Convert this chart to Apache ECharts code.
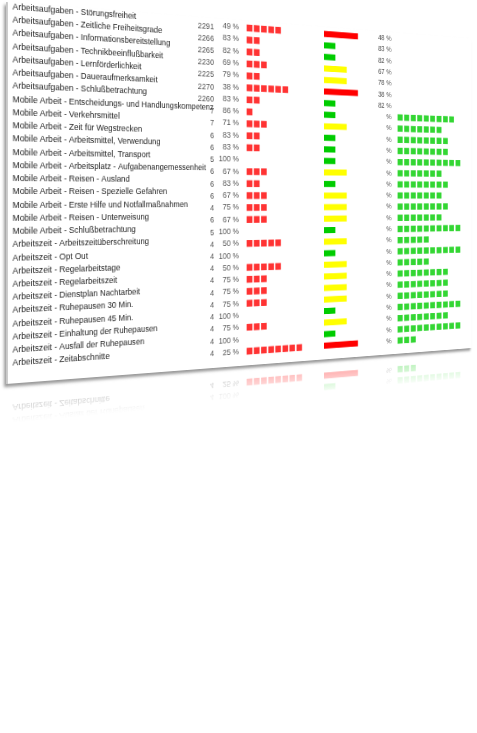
<!DOCTYPE html>
<html>
<head>
<meta charset="utf-8">
<script src="https://cdn.jsdelivr.net/npm/echarts@6/dist/echarts.min.js"></script>
<style>
  html, body { margin: 0; padding: 0; background: #fff; }
  #scene { position: absolute; left: 0; top: 0; width: 477px; height: 733px; overflow: hidden;
    perspective: 890px; perspective-origin: 6px 195px; }
  #table { position: absolute; left: 6px; top: 2px; width: 610px; height: 382px;
    transform: rotateY(20deg); transform-origin: 0 50%; }
  #main { position: absolute; left: 0; top: 0; width: 610px; height: 382px; background: #fff;
    border-left: 2px solid #c8c8c8; box-shadow: -2px 3px 3px #999; }
  #refl { position: absolute; left: 0; top: 385px; width: 612px; height: 36px; overflow: hidden;
    opacity: 0.45; -webkit-mask-image: linear-gradient(#000, transparent); mask-image: linear-gradient(#000, transparent); }
  #mirror { position: absolute; left: 2px; top: 0; width: 610px; height: 382px; transform: scaleY(-1); }
</style>
</head>
<body>
<div id="scene">
  <div id="table">
    <div id="main"></div>
    <div id="refl"><div id="mirror"></div></div>
  </div>
</div>
<script>
var labels = [
  'Arbeitsaufgaben - Störungsfreiheit',
  'Arbeitsaufgaben - Zeitliche Freiheitsgrade',
  'Arbeitsaufgaben - Informationsbereitstellung',
  'Arbeitsaufgaben - Technikbeeinflußbarkeit',
  'Arbeitsaufgaben - Lernförderlichkeit',
  'Arbeitsaufgaben - Daueraufmerksamkeit',
  'Arbeitsaufgaben - Schlußbetrachtung',
  'Mobile Arbeit - Entscheidungs- und Handlungskompetenz',
  'Mobile Arbeit - Verkehrsmittel',
  'Mobile Arbeit - Zeit für Wegstrecken',
  'Mobile Arbeit - Arbeitsmittel, Verwendung',
  'Mobile Arbeit - Arbeitsmittel, Transport',
  'Mobile Arbeit - Arbeitsplatz - Aufgabenangemessenheit',
  'Mobile Arbeit - Reisen - Ausland',
  'Mobile Arbeit - Reisen - Spezielle Gefahren',
  'Mobile Arbeit - Erste Hilfe und Notfallmaßnahmen',
  'Mobile Arbeit - Reisen - Unterweisung',
  'Mobile Arbeit - Schlußbetrachtung',
  'Arbeitszeit - Arbeitszeitüberschreitung',
  'Arbeitszeit - Opt Out',
  'Arbeitszeit - Regelarbeitstage',
  'Arbeitszeit - Regelarbeitszeit',
  'Arbeitszeit - Dienstplan Nachtarbeit',
  'Arbeitszeit - Ruhepausen 30 Min.',
  'Arbeitszeit - Ruhepausen 45 Min.',
  'Arbeitszeit - Einhaltung der Ruhepausen',
  'Arbeitszeit - Ausfall der Ruhepausen',
  'Arbeitszeit - Zeitabschnitte'
];
var counts = [2291, 2266, 2265, 2230, 2225, 2270, 2260, 7, 7, 6, 6, 5, 6, 6, 6, 4, 6, 5, 4, 4, 4, 4, 4, 4, 4, 4, 4, 4];
var pcts = [49, 83, 82, 69, 79, 38, 83, 86, 71, 83, 83, 100, 67, 83, 67, 75, 67, 100, 50, 100, 50, 75, 75, 75, 100, 75, 100, 25];
var redSquares = [5, 2, 2, 3, 2, 6, 2, 1, 3, 2, 2, 0, 3, 2, 3, 3, 3, 0, 5, 0, 5, 3, 3, 3, 0, 3, 0, 8];
var sidePcts = [48, 83, 82, 67, 78, 38, 82, null, null, null, null, null, null, null, null, null, null, null, null, null, null, null, null, null, null, null, null, null];
var greenSquares = [0, 0, 0, 0, 0, 0, 0, 9, 7, 8, 8, 10, 7, 8, 7, 8, 7, 10, 5, 10, 5, 8, 8, 8, 10, 8, 10, 3];

var TOP = 1, HEIGHT = 372;
var FONT = 'Liberation Sans, Arial, sans-serif';

function level(p) { return p < 50 ? 3 : (p < 80 ? 2 : 1); }
function levelColor(p) { return p < 50 ? '#ff0000' : (p < 80 ? '#ffff00' : '#00cc00'); }

function squares(arr) {
  var res = [];
  arr.forEach(function (n, r) { for (var i = 0; i < n; i++) res.push([i + 0.5, r]); });
  return res;
}

// columns: label+count | percent | red squares | level bar | side percent | green squares
var gridDefs = [
  { left: 5, width: 235, max: 1 },
  { left: 242, width: 30, max: 1 },
  { left: 281, width: 105, max: 11 },
  { left: 387, width: 55, max: 3.4 },
  { left: 446, width: 39, max: 1 },
  { left: 493, width: 115, max: 11.5 }
];

var eoption = {
  animation: false,
  grid: gridDefs.map(function (g) { return { left: g.left, width: g.width, top: TOP, height: HEIGHT }; }),
  xAxis: gridDefs.map(function (g, i) {
    return { type: 'value', gridIndex: i, min: 0, max: g.max, show: false };
  }),
  yAxis: gridDefs.map(function (g, i) {
    return {
      type: 'category', gridIndex: i, data: labels, inverse: true,
      axisLine: { show: false }, axisTick: { show: false }, splitLine: { show: false },
      axisLabel: i === 0 ? {
        show: true, inside: true, align: 'left', verticalAlign: 'bottom', margin: 0,
        color: '#222', fontSize: 9.2, fontFamily: FONT
      } : { show: false }
    };
  }),
  series: [{
    type: 'scatter', xAxisIndex: 0, yAxisIndex: 0, symbolSize: 0,
    data: counts.map(function (c, r) { return { value: [1, r], name: String(c) }; }),
    label: { show: true, position: 'left', distance: 0, formatter: '{b}', color: '#222', fontSize: 9.2, fontFamily: FONT }
  }, {
    type: 'scatter', xAxisIndex: 1, yAxisIndex: 1, symbolSize: 0,
    data: pcts.map(function (p, r) { return { value: [1, r], name: p + ' %' }; }),
    label: { show: true, position: 'left', distance: 0, formatter: '{b}', color: '#222', fontSize: 9.2, fontFamily: FONT }
  }, {
    type: 'scatter', xAxisIndex: 2, yAxisIndex: 2, symbol: 'rect', symbolSize: 7.5,
    itemStyle: { color: '#ff0000' }, data: squares(redSquares)
  }, {
    type: 'bar', xAxisIndex: 3, yAxisIndex: 3, barWidth: 7,
    data: pcts.map(function (p) { return { value: level(p), itemStyle: { color: levelColor(p) } }; })
  }, {
    type: 'scatter', xAxisIndex: 4, yAxisIndex: 4, symbolSize: 0,
    data: sidePcts.map(function (p, r) { return { value: [1, r], name: p === null ? '%' : p + ' %' }; }),
    label: { show: true, position: 'left', distance: 0, formatter: '{b}', color: '#222', fontSize: 8.8, fontFamily: FONT }
  }, {
    type: 'scatter', xAxisIndex: 5, yAxisIndex: 5, symbol: 'rect', symbolSize: 7.5,
    itemStyle: { color: '#00cc00' }, data: squares(greenSquares)
  }]
};

echarts.init(document.getElementById('main')).setOption(eoption);
echarts.init(document.getElementById('mirror')).setOption(eoption);
</script>
</body>
</html>
